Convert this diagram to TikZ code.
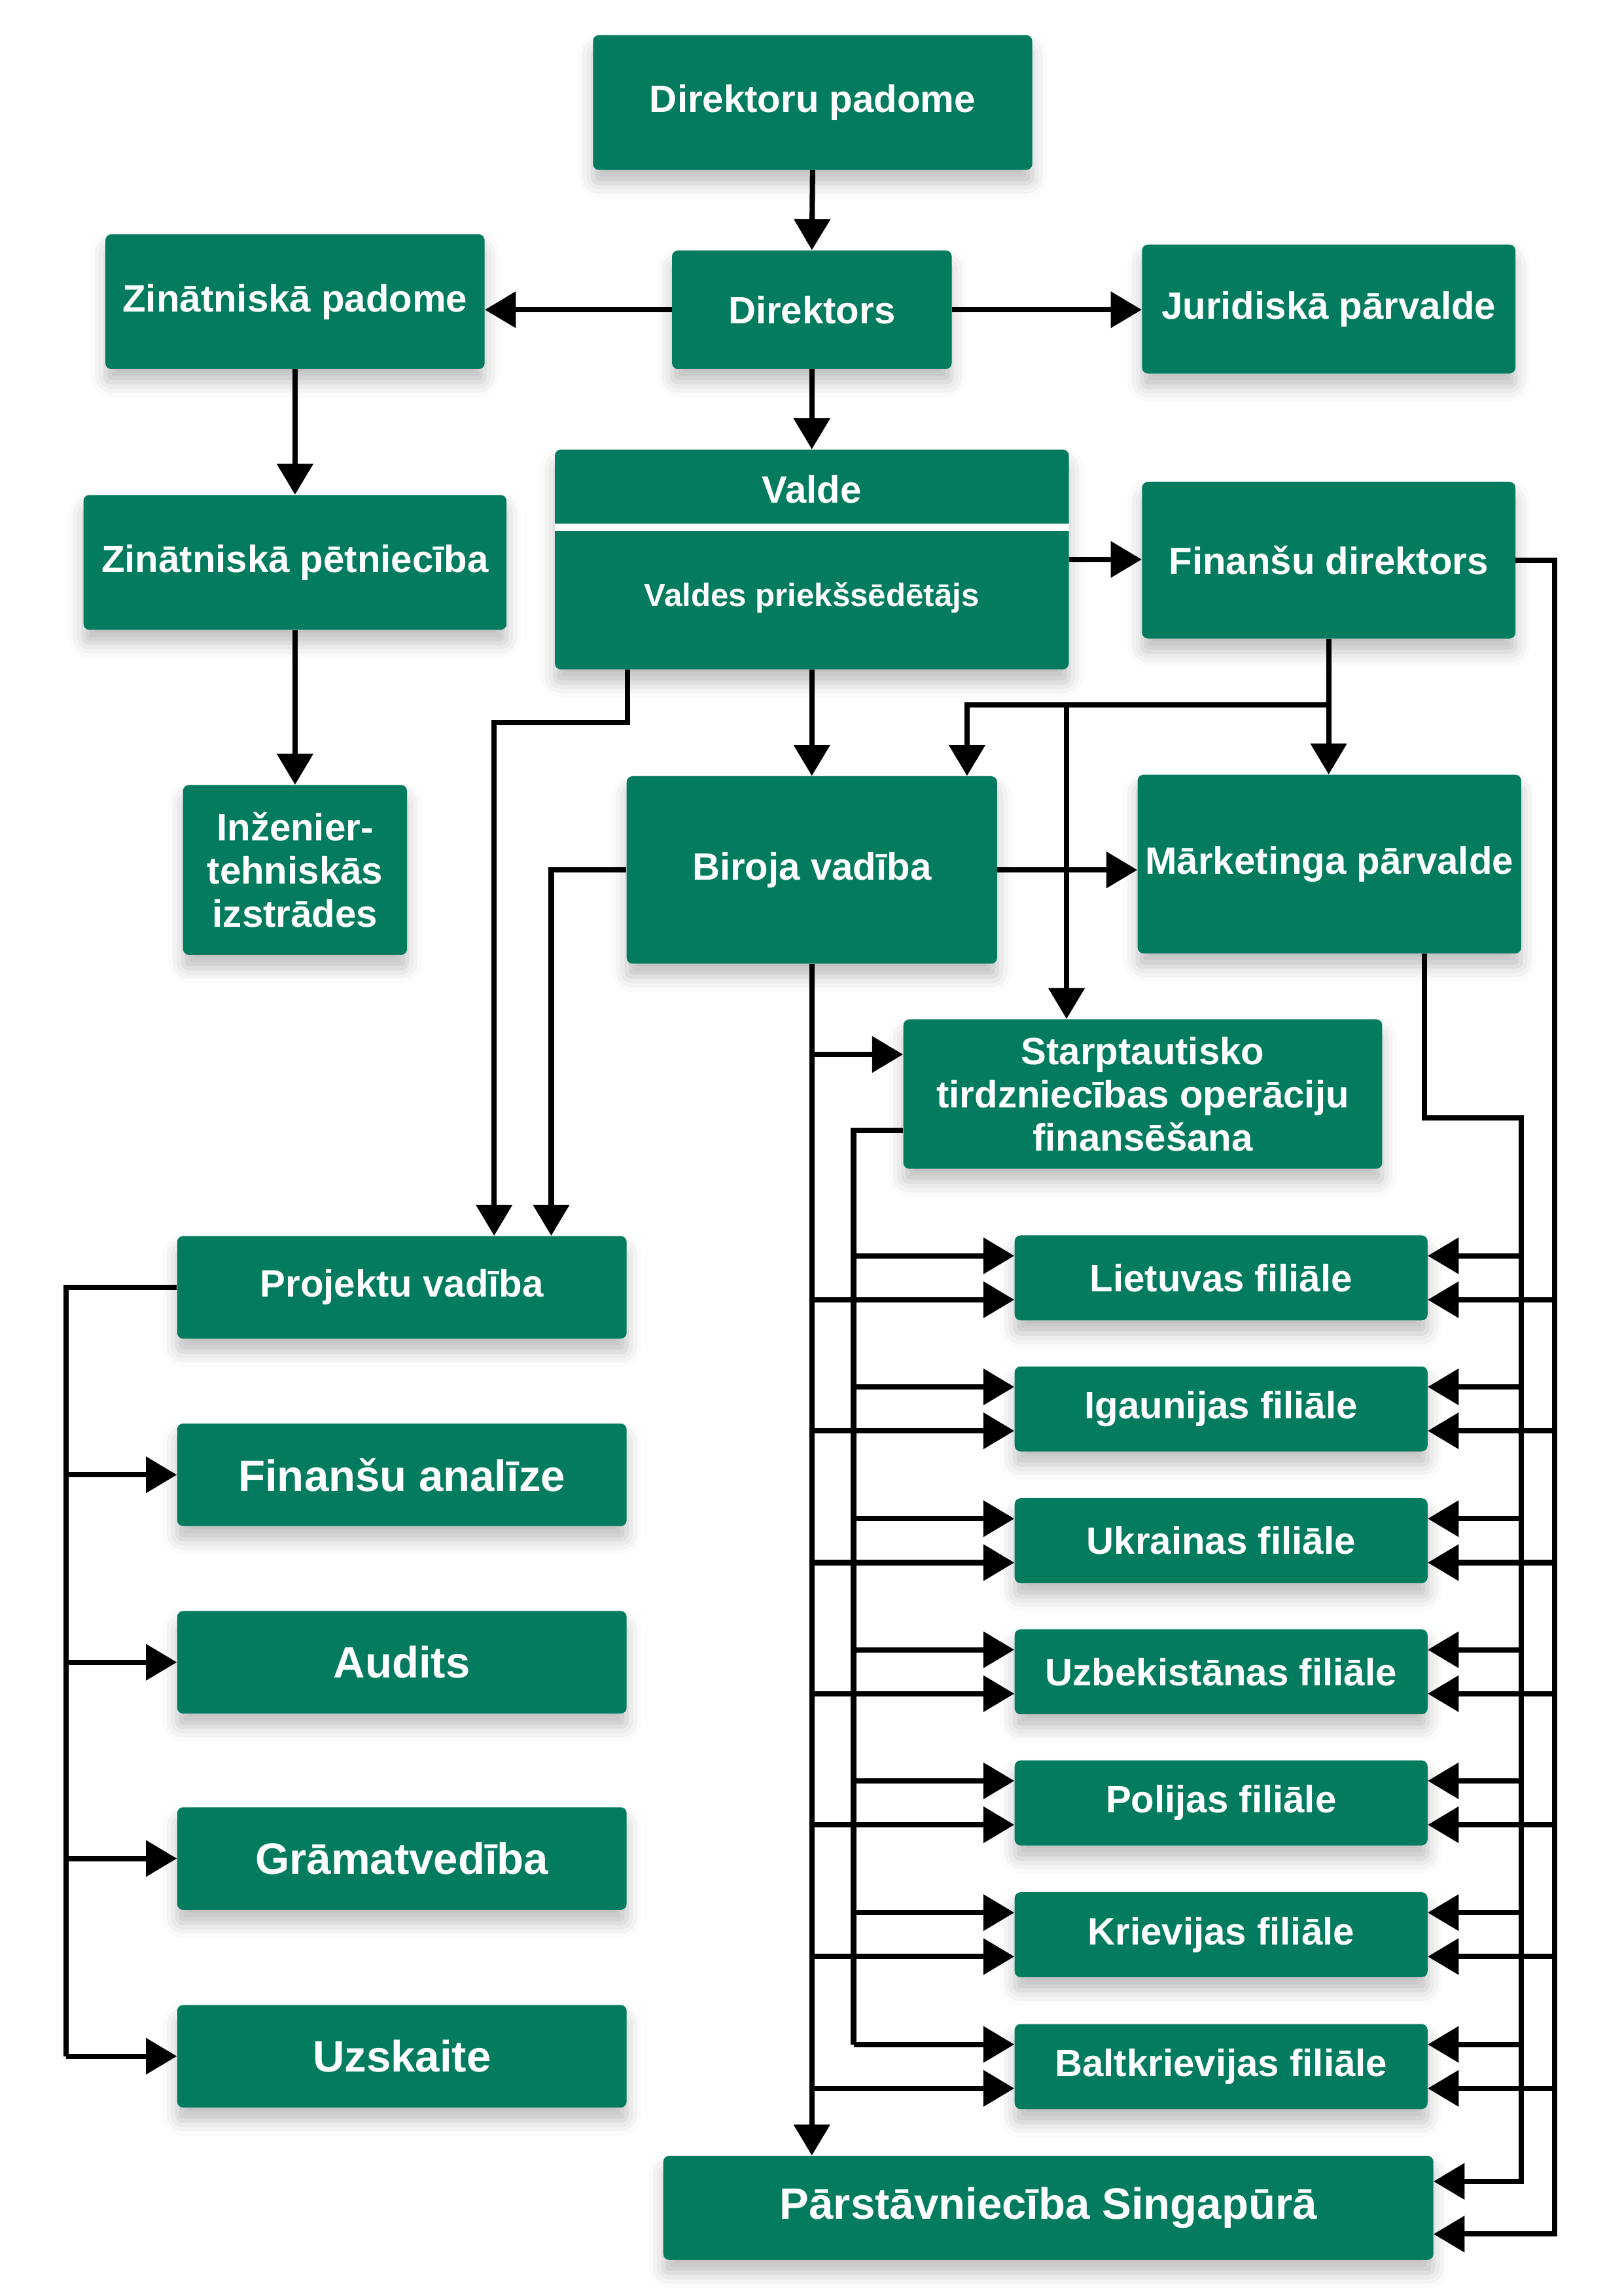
\documentclass[tikz,border=0pt]{standalone}
\usepackage{fontspec}
\setmainfont{Liberation Sans}
\usetikzlibrary{arrows.meta,shadows.blur}
\definecolor{orggreen}{HTML}{037B5E}

\begin{document}
\begin{tikzpicture}[
    x=1pt,
    y=-1pt,
    scale=0.9945,
    transform shape,
    box/.style={
      fill=orggreen,
      rounded corners=4pt,
      inner sep=0,
      text=white,
      align=center,
      font=\bfseries\fontsize{26}{29.5}\selectfont,
      blur shadow={shadow xshift=0pt,shadow yshift=-9pt,
        shadow blur radius=10pt,shadow opacity=25},
    },
    bigbox/.style={
      box,
      font=\bfseries\fontsize{30}{34}\selectfont,
    },
    label/.style={
      inner sep=0,
      text=white,
      font=\bfseries\fontsize{26}{29.5}\selectfont,
    },
    link/.style={
      line width=3.6pt,
      -{Triangle[length=21pt,width=24pt]},
    },
    wire/.style={
      line width=3.6pt,
    },
  ]
    \useasboundingbox (0,0) rectangle (1109.1,1567.7);

    % top of the structure
    \node[box,minimum width=300pt,minimum height=92pt] (padome) at (555,70) {Direktoru padome};
    \node[box,minimum width=191pt,minimum height=81pt] (direktors) at (554.5,211.5) {Direktors};
    \node[box,minimum width=259pt,minimum height=92pt] (zinpad) at (201.5,206) {Zinātniskā padome};
    \node[box,minimum width=255pt,minimum height=88pt] (jurid) at (907.5,211) {Juridiskā pārvalde};

    % valde, two parts
    \node[box,minimum width=351pt,minimum height=150pt] (valde) at (554.5,382) {};
    \coordinate (vsplit) at (0,360);
    \draw[white,line width=4.5pt] (valde.west |- vsplit) -- (valde.east |- vsplit);
    \node[label] (valdeT) at (554.5,334) {Valde};
    \node[label,font=\bfseries\fontsize{22}{26}\selectfont] (valdeB) at (554.5,408) {Valdes priekšsēdētājs};

    \node[box,minimum width=289pt,minimum height=92pt] (zinpet) at (201.5,384) {Zinātniskā pētniecība};
    \node[box,minimum width=255pt,minimum height=107pt] (findir) at (907.5,382.5) {Finanšu direktors};
    \node[box,minimum width=153pt,minimum height=116pt] (inzen) at (201.5,594) {Inženier-\\tehniskās\\izstrādes};
    \node[box,minimum width=253pt,minimum height=128pt] (biroja) at (554.5,594) {Biroja vadība};
    \node[box,minimum width=262pt,minimum height=122pt] (mark) at (908,590) {Mārketinga pārvalde};
    \node[box,minimum width=327pt,minimum height=102pt] (starpt) at (780.5,747) {Starptautisko\\tirdzniecības operāciju\\finansēšana};

    % left column
    \node[box,minimum width=307pt,minimum height=70pt] (projekt) at (274.5,879) {Projektu vadība};
    \foreach \name/\y/\txt in {finan/1007/Finanšu analīze,audits/1135/Audits,
        gramat/1269/Grāmatvedība,uzsk/1404/Uzskaite}{
      \node[bigbox,minimum width=307pt,minimum height=70pt] (\name) at (274.5,\y) {\txt};
    }

    % branches
    \foreach \name/\y/\txt in {lit/872.5/Lietuvas filiāle,iga/962/Igaunijas filiāle,
        ukr/1052/Ukrainas filiāle,uzb/1141.5/Uzbekistānas filiāle,
        pol/1231/Polijas filiāle,kri/1321/Krievijas filiāle,
        bal/1411/Baltkrievijas filiāle}{
      \node[box,minimum width=282pt,minimum height=58pt] (\name) at (834,\y) {\txt};
    }
    \node[bigbox,minimum width=526pt,minimum height=71pt] (sing) at (716,1507.5) {Pārstāvniecība Singapūrā};

    % trunk lines
    \coordinate (trunkA) at (554.5,0);
    \coordinate (trunkB) at (583,0);
    \coordinate (trunkC) at (1039,0);
    \coordinate (trunkD) at (1062,0);
    \coordinate (trunkE) at (45,0);

    % top connectors
    \draw[link] (padome.south) -- (direktors.north);
    \draw[link] (direktors.west) -- (direktors.west -| zinpad.east);
    \draw[link] (direktors.east) -- (direktors.east -| jurid.west);
    \draw[link] (direktors.south) -- (valde.north);
    \draw[link] (zinpad.south) -- (zinpet.north);
    \draw[link] (zinpet.south) -- (inzen.north);
    \draw[link] (valde.east) -- (valde.east -| findir.west);
    \draw[link] (valde.south) -- (biroja.north);

    % to projektu vadiba
    \coordinate (projin1) at ([xshift=63pt]projekt.north);
    \coordinate (projin2) at ([xshift=102pt]projekt.north);
    \draw[link] ([xshift=-126pt]valde.south) -- ++(0,36) -| (projin1);
    \draw[link] (biroja.west) -| (projin2);

    % from finansu direktors
    \path (findir.south) ++(0,45) coordinate (finsplit);
    \coordinate (starptin) at ([xshift=-52pt]starpt.north);
    \draw[link] (findir.south) -- (findir.south |- mark.north);
    \draw[link] (finsplit) -| ([xshift=106pt]biroja.north);
    \draw[link] (finsplit -| starptin) -- (starptin);
    \draw[link] (biroja.east) -- (biroja.east -| mark.west);

    % arrows into the branches
    \coordinate (starptup) at ([yshift=27pt]starpt.west);
    \coordinate (starptlo) at ([yshift=-25pt]starpt.west);
    \coordinate (singup) at ([yshift=18pt]sing.east);
    \coordinate (singlo) at ([yshift=-18pt]sing.east);
    \draw[link] (biroja.south) -- (trunkA |- sing.north);
    \draw[link] (trunkA |- starptup) -- (starptup);
    \draw[link] ([xshift=65pt]mark.south) -- ++(0,112) -| (trunkC |- singup) -- (singup);
    \draw[link] (findir.east) -| (trunkD |- singlo) -- (singlo);
    \foreach \name in {lit,iga,ukr,uzb,pol,kri,bal}{
      \coordinate (wu\name) at ([yshift=15pt]\name.west);
      \coordinate (wl\name) at ([yshift=-15pt]\name.west);
      \coordinate (eu\name) at ([yshift=15pt]\name.east);
      \coordinate (el\name) at ([yshift=-15pt]\name.east);
      \draw[link] (trunkB |- wu\name) -- (wu\name);
      \draw[link] (trunkA |- wl\name) -- (wl\name);
      \draw[link] (trunkC |- eu\name) -- (eu\name);
      \draw[link] (trunkD |- el\name) -- (el\name);
    }
    \draw[wire] (starptlo) -| (trunkB |- wubal);

    % finance group on the left
    \draw[wire] (projekt.west) -| (trunkE |- uzsk.west);
    \foreach \name in {finan,audits,gramat,uzsk}{
      \draw[link] (trunkE |- \name.west) -- (\name.west);
    }
\end{tikzpicture}
\end{document}
